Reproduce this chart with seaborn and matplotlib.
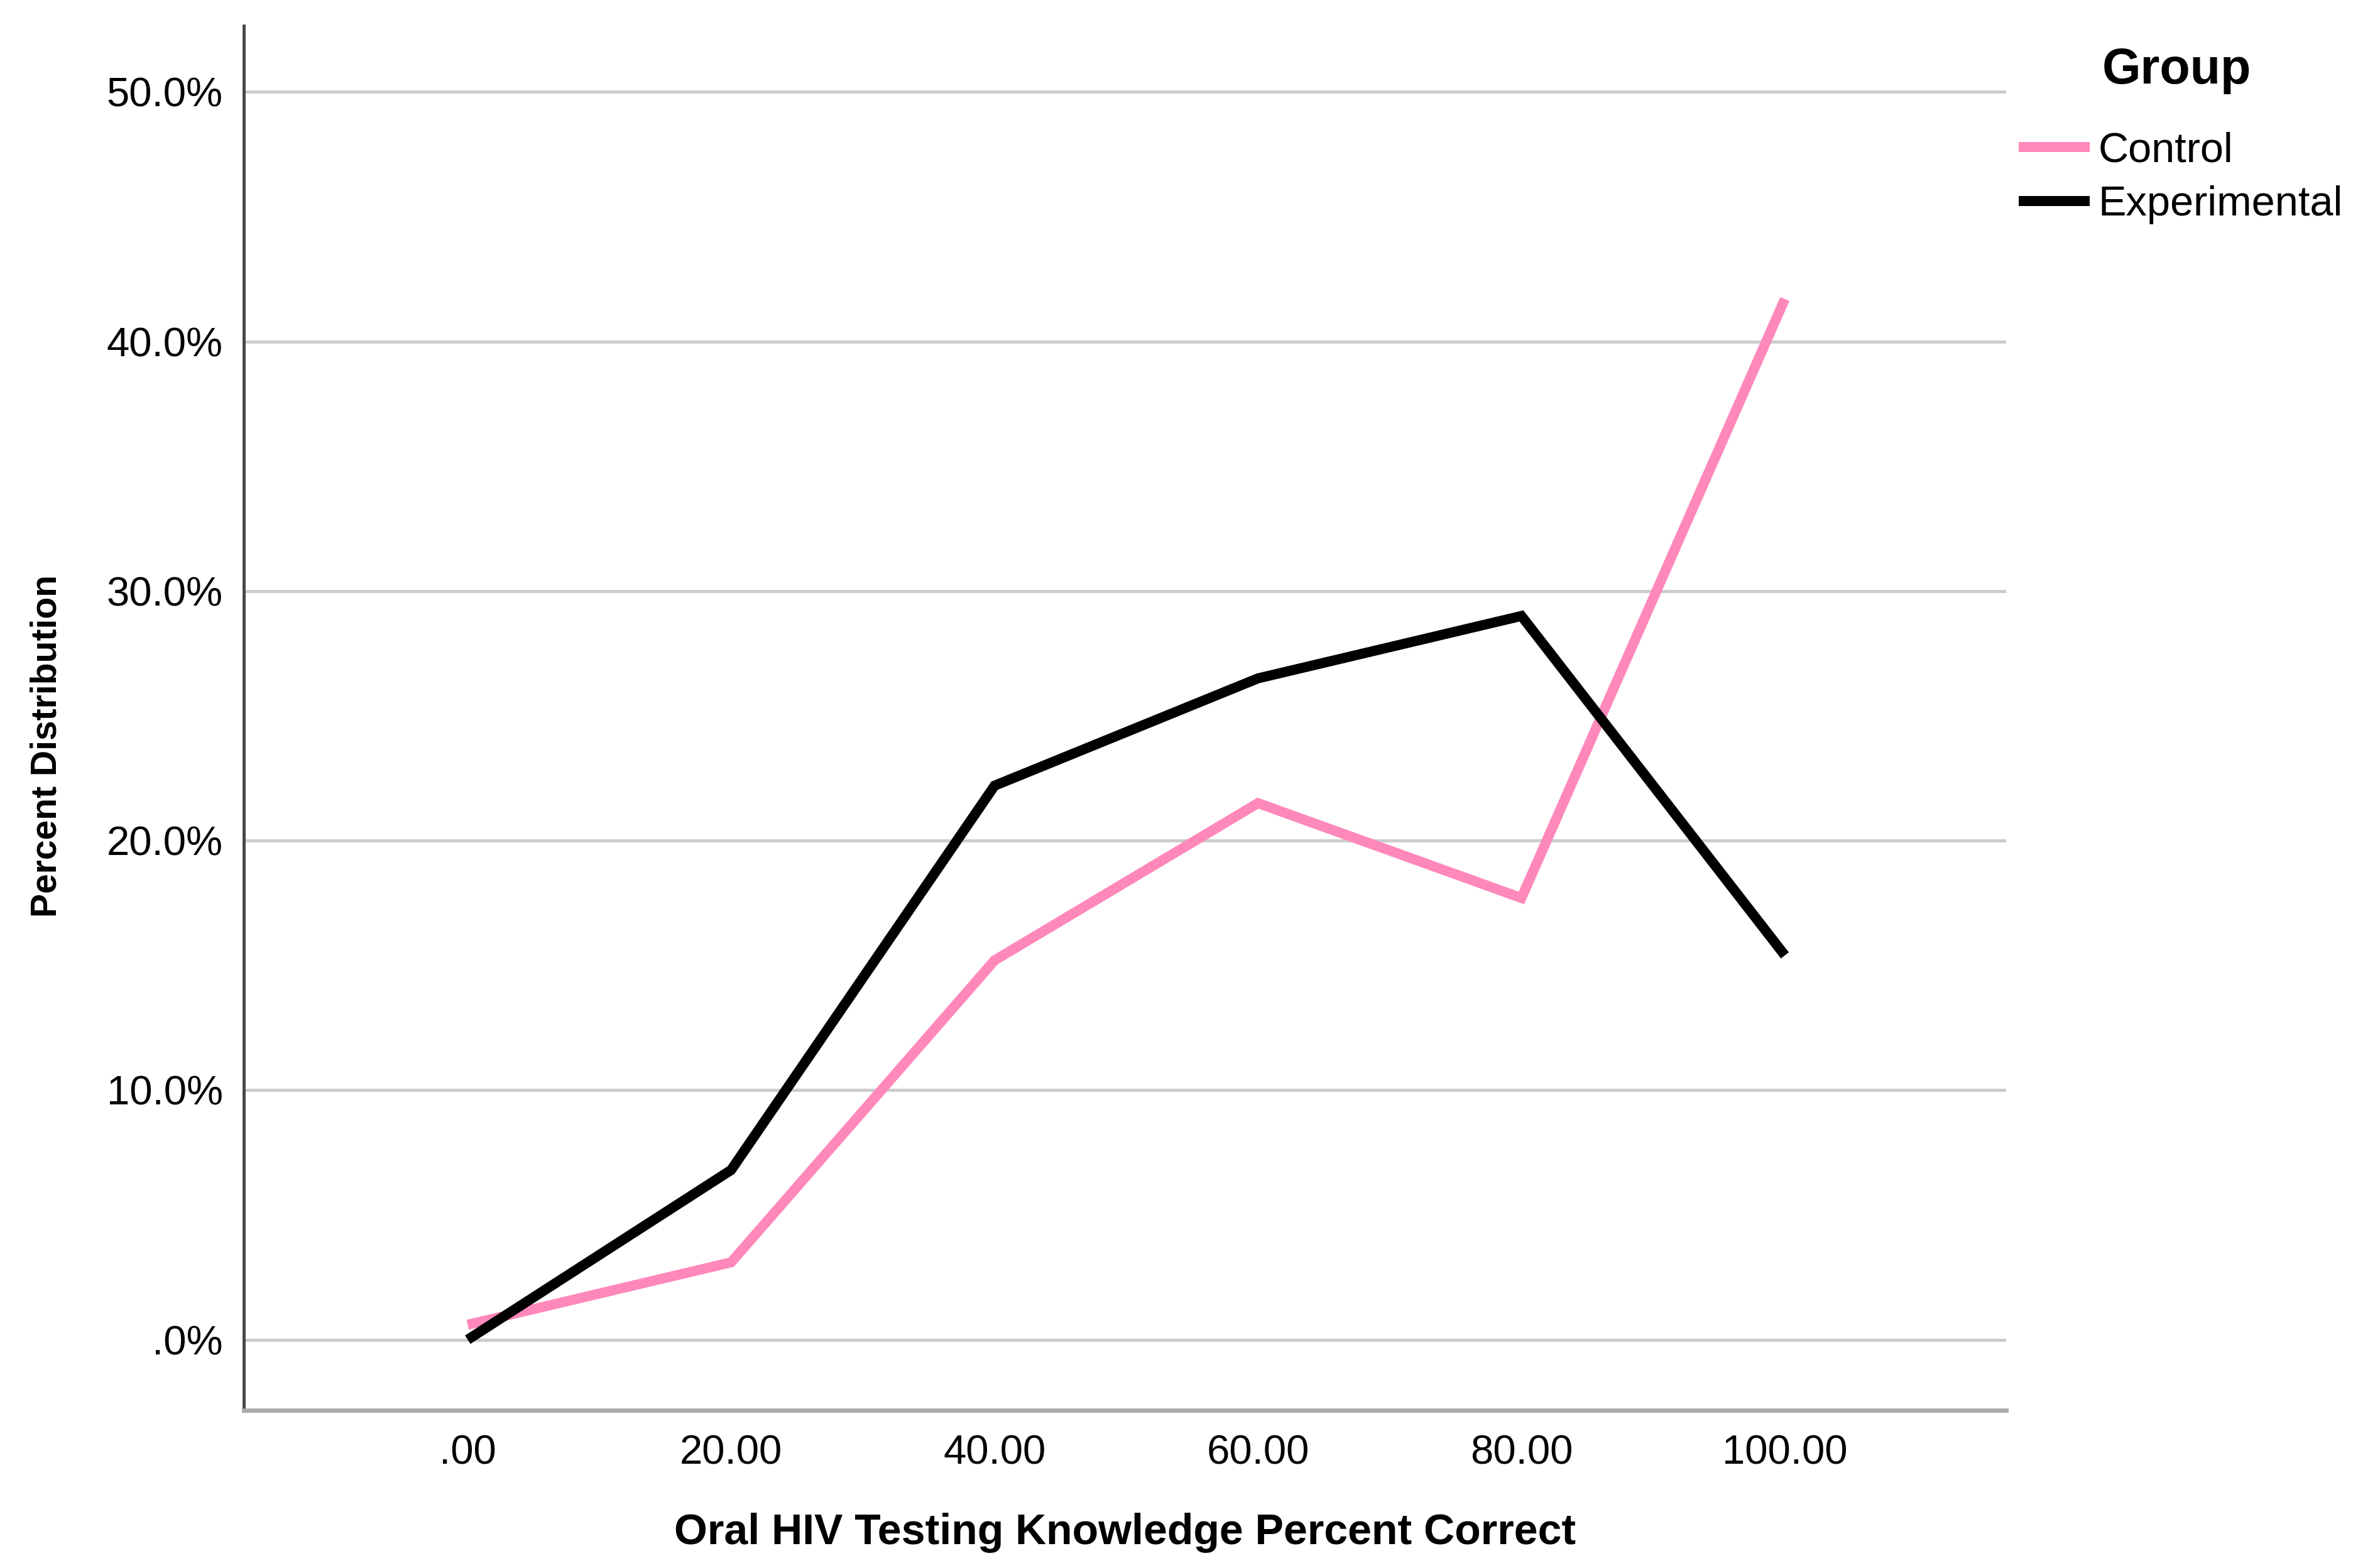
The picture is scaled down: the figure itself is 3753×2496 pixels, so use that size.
import matplotlib
matplotlib.use("Agg")
import matplotlib.pyplot as plt
import seaborn as sns
import pandas as pd
from matplotlib.ticker import FixedLocator, FixedFormatter

scores = [0, 20, 40, 60, 80, 100]
control = [0.6, 3.1, 15.2, 21.5, 17.7, 41.7]
experimental = [0.0, 6.8, 22.2, 26.5, 29.0, 15.4]
groups = ["Control", "Experimental"]
x_tick_labels = [".00", "20.00", "40.00", "60.00", "80.00", "100.00"]
y_ticks = [0, 10, 20, 30, 40, 50]
y_tick_labels = [".0%", "10.0%", "20.0%", "30.0%", "40.0%", "50.0%"]

df = pd.DataFrame({
    "score": scores * 2,
    "pct": control + experimental,
    "Group": [groups[0]] * len(scores) + [groups[1]] * len(scores),
})

sns.set_theme(style="white")
fam = ["Liberation Sans Narrow", "Liberation Sans", "DejaVu Sans"]
plt.rcParams["font.family"] = fam
plt.rcParams["text.color"] = "black"
plt.rcParams["axes.labelcolor"] = "black"

W, H, DPI = 3753, 2496, 100
fig = plt.figure(figsize=(W / DPI, H / DPI), dpi=DPI)
ax = fig.add_axes([388 / W, 1 - 2245 / H, (3193 - 388) / W, (2245 - 41) / H])

palette = {"Control": "#FF88BB", "Experimental": "#000000"}
sns.lineplot(data=df, x="score", y="pct", hue="Group", palette=palette,
             linewidth=11.5, ax=ax, legend=True, zorder=3,
             solid_capstyle="butt", solid_joinstyle="miter")

ax.set_xlim(-17.0, 116.8)
ax.set_ylim(-2.83, 52.65)
ax.xaxis.set_major_locator(FixedLocator(scores))
ax.xaxis.set_major_formatter(FixedFormatter(x_tick_labels))
ax.yaxis.set_major_locator(FixedLocator(y_ticks))
ax.yaxis.set_major_formatter(FixedFormatter(y_tick_labels))
ax.tick_params(axis="both", length=0, labelsize=47, colors="#000000")
ax.tick_params(axis="y", pad=24)
ax.tick_params(axis="x", pad=28)

ax.grid(axis="y", color="#cccccc", linewidth=3.6, zorder=0)
ax.grid(axis="x", visible=False)
for s in ["top", "right"]:
    ax.spines[s].set_visible(False)
ax.spines["left"].set_color("#444444")
ax.spines["left"].set_linewidth(3.5)
ax.spines["bottom"].set_color("#aaaaaa")
ax.spines["bottom"].set_linewidth(5)

ax.set_xlabel("Oral HIV Testing Knowledge Percent Correct", fontsize=49,
              fontweight="bold", labelpad=46, color="black")
ax.set_ylabel("Percent Distribution", fontsize=41, fontweight="bold", color="black")
ax.yaxis.set_label_coords(-0.102, 0.48)

handles, labels = ax.get_legend_handles_labels()
leg = ax.legend(handles, labels, loc="upper left",
                bbox_to_anchor=(3186 / W, 1 - 183 / H), bbox_transform=fig.transFigure,
                frameon=False, fontsize=48,
                handlelength=1.7, handletextpad=0.2, labelspacing=0.35,
                borderaxespad=0)
for line in leg.get_lines():
    line.set_linewidth(11.5)
    line.set_solid_capstyle("butt")
for t in leg.get_texts():
    t.set_color("black")
fig.text(3346 / W, 1 - 112 / H, "Group", fontsize=57, fontweight="bold",
         ha="left", va="center", color="black")

fig.savefig("out.png", dpi=DPI)
